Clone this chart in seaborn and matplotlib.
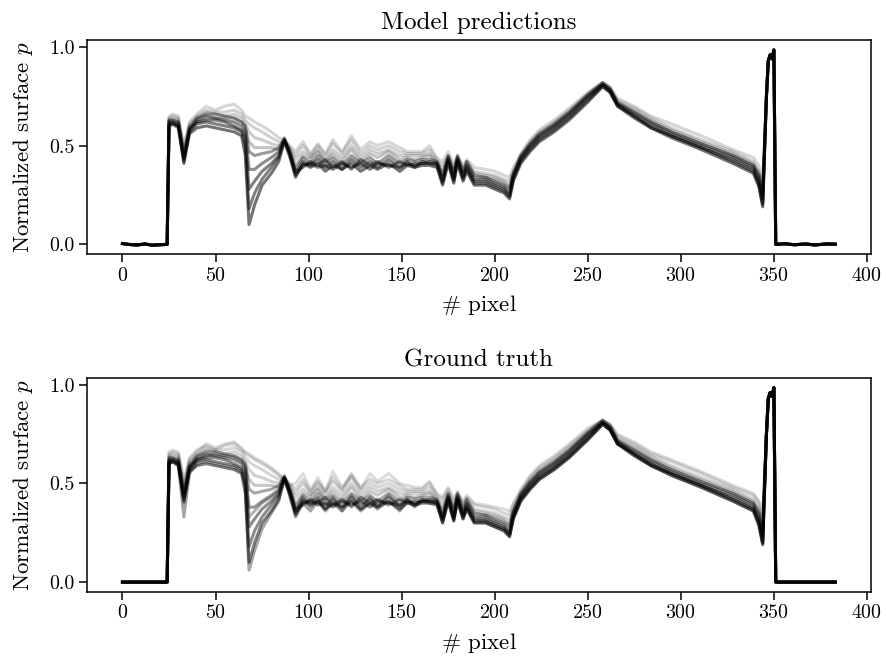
import matplotlib
matplotlib.use("Agg")
import matplotlib.pyplot as plt
import seaborn as sns
import numpy as np

# ---------------- data ----------------
X_pre = [0, 4, 8, 12, 16, 20, 24]
pre_pred = [0.004, -0.001, -0.003, 0.002, -0.004, -0.002, 0.0]
pre_truth = [0, 0, 0, 0, 0, 0, 0]

X_mid = [25, 27, 30, 33, 36, 40, 45, 50, 55, 60,
         64, 66, 68, 71, 75, 80, 84, 87, 90, 93,
         97, 101, 105, 109, 113, 118, 123, 128, 133, 137,
         143, 149, 153, 157, 161, 165, 169, 172, 175, 178,
         180, 183, 185, 189, 195, 200, 205, 208, 210, 214,
         219, 224, 232, 240, 250, 258, 262, 266, 275, 284,
         295, 311, 328, 339, 342, 344]

X_post = [346, 347, 348, 349, 350, 351, 356, 361, 367, 372, 378, 383]
post_pred = [0.75, 0.93, 0.96, 0.94, 0.985, 0.0, 0.003, -0.002, 0.002, -0.003, 0.002, 0.001]
post_truth = [0.75, 0.93, 0.96, 0.94, 0.985, 0, 0, 0, 0, 0, 0, 0]

C1 = [0.60, 0.61, 0.59, 0.41, 0.56, 0.59, 0.60, 0.59, 0.58, 0.57,
      0.55, 0.45, 0.10, 0.20, 0.30, 0.36, 0.42, 0.52, 0.44, 0.34,
      0.41, 0.39, 0.41, 0.37, 0.40, 0.38, 0.41, 0.37, 0.40, 0.38,
      0.41, 0.37, 0.40, 0.39, 0.40, 0.40, 0.39, 0.30, 0.41, 0.31,
      0.41, 0.32, 0.37, 0.30, 0.30, 0.28, 0.26, 0.23, 0.32, 0.41,
      0.47, 0.52, 0.57, 0.63, 0.72, 0.80, 0.77, 0.70, 0.64, 0.59,
      0.54, 0.48, 0.41, 0.36, 0.29, 0.19]
C2 = [0.60, 0.61, 0.60, 0.42, 0.57, 0.61, 0.62, 0.61, 0.60, 0.59,
      0.57, 0.50, 0.18, 0.26, 0.33, 0.39, 0.44, 0.53, 0.45, 0.35,
      0.40, 0.41, 0.39, 0.40, 0.38, 0.41, 0.39, 0.41, 0.38, 0.41,
      0.40, 0.39, 0.41, 0.40, 0.41, 0.41, 0.40, 0.31, 0.42, 0.32,
      0.42, 0.33, 0.38, 0.31, 0.31, 0.29, 0.27, 0.24, 0.33, 0.42,
      0.48, 0.53, 0.58, 0.64, 0.73, 0.80, 0.77, 0.70, 0.65, 0.59,
      0.55, 0.49, 0.42, 0.37, 0.30, 0.20]
C3 = [0.61, 0.62, 0.60, 0.43, 0.58, 0.62, 0.63, 0.63, 0.62, 0.60,
      0.58, 0.54, 0.28, 0.32, 0.37, 0.41, 0.45, 0.53, 0.46, 0.36,
      0.42, 0.40, 0.43, 0.39, 0.42, 0.38, 0.43, 0.39, 0.42, 0.39,
      0.43, 0.39, 0.42, 0.39, 0.42, 0.41, 0.41, 0.32, 0.43, 0.33,
      0.43, 0.34, 0.39, 0.32, 0.32, 0.30, 0.28, 0.25, 0.34, 0.43,
      0.49, 0.54, 0.59, 0.65, 0.74, 0.81, 0.78, 0.71, 0.65, 0.60,
      0.55, 0.49, 0.43, 0.38, 0.31, 0.21]
C4 = [0.62, 0.62, 0.61, 0.44, 0.58, 0.63, 0.65, 0.64, 0.63, 0.62,
      0.60, 0.57, 0.38, 0.38, 0.41, 0.44, 0.47, 0.53, 0.46, 0.37,
      0.39, 0.42, 0.40, 0.43, 0.39, 0.42, 0.38, 0.43, 0.40, 0.42,
      0.39, 0.42, 0.40, 0.41, 0.41, 0.42, 0.41, 0.33, 0.44, 0.34,
      0.44, 0.35, 0.40, 0.33, 0.33, 0.31, 0.29, 0.26, 0.35, 0.44,
      0.50, 0.55, 0.60, 0.66, 0.75, 0.81, 0.78, 0.71, 0.66, 0.61,
      0.56, 0.50, 0.44, 0.39, 0.33, 0.23]
C5 = [0.63, 0.63, 0.62, 0.45, 0.59, 0.64, 0.66, 0.66, 0.65, 0.64,
      0.62, 0.60, 0.47, 0.45, 0.46, 0.47, 0.49, 0.54, 0.47, 0.38,
      0.44, 0.41, 0.45, 0.41, 0.44, 0.40, 0.45, 0.41, 0.44, 0.41,
      0.45, 0.41, 0.43, 0.42, 0.43, 0.43, 0.42, 0.35, 0.45, 0.36,
      0.45, 0.37, 0.42, 0.35, 0.34, 0.32, 0.30, 0.28, 0.36, 0.45,
      0.51, 0.56, 0.61, 0.67, 0.76, 0.82, 0.79, 0.72, 0.67, 0.62,
      0.57, 0.51, 0.45, 0.40, 0.35, 0.25]
L1 = [0.65, 0.66, 0.65, 0.50, 0.62, 0.66, 0.70, 0.68, 0.70, 0.71,
      0.68, 0.65, 0.64, 0.62, 0.60, 0.57, 0.54, 0.53, 0.50, 0.47,
      0.52, 0.46, 0.51, 0.46, 0.53, 0.47, 0.55, 0.48, 0.52, 0.50,
      0.52, 0.49, 0.47, 0.47, 0.47, 0.50, 0.44, 0.42, 0.47, 0.41,
      0.45, 0.40, 0.43, 0.39, 0.38, 0.37, 0.35, 0.34, 0.39, 0.46,
      0.53, 0.58, 0.63, 0.69, 0.77, 0.82, 0.80, 0.74, 0.70, 0.65,
      0.61, 0.55, 0.48, 0.44, 0.40, 0.32]
L2 = [0.64, 0.65, 0.64, 0.48, 0.61, 0.65, 0.68, 0.67, 0.67, 0.68,
      0.66, 0.63, 0.61, 0.59, 0.57, 0.54, 0.52, 0.52, 0.49, 0.45,
      0.50, 0.45, 0.50, 0.45, 0.51, 0.46, 0.53, 0.46, 0.50, 0.48,
      0.50, 0.47, 0.46, 0.46, 0.46, 0.48, 0.43, 0.40, 0.45, 0.39,
      0.44, 0.39, 0.42, 0.37, 0.36, 0.35, 0.33, 0.32, 0.37, 0.45,
      0.52, 0.57, 0.62, 0.68, 0.76, 0.82, 0.79, 0.73, 0.69, 0.64,
      0.59, 0.53, 0.47, 0.42, 0.37, 0.29]
L3 = [0.63, 0.64, 0.63, 0.47, 0.60, 0.64, 0.67, 0.66, 0.65, 0.66,
      0.64, 0.61, 0.57, 0.54, 0.53, 0.51, 0.50, 0.52, 0.48, 0.43,
      0.47, 0.44, 0.48, 0.43, 0.48, 0.44, 0.50, 0.44, 0.48, 0.46,
      0.48, 0.45, 0.45, 0.45, 0.45, 0.46, 0.42, 0.38, 0.44, 0.38,
      0.43, 0.37, 0.41, 0.36, 0.35, 0.34, 0.32, 0.30, 0.36, 0.44,
      0.51, 0.56, 0.61, 0.67, 0.75, 0.81, 0.79, 0.72, 0.68, 0.63,
      0.58, 0.52, 0.46, 0.41, 0.36, 0.27]
L4 = [0.62, 0.63, 0.62, 0.46, 0.59, 0.62, 0.64, 0.64, 0.64, 0.64,
      0.62, 0.59, 0.52, 0.49, 0.49, 0.49, 0.48, 0.52, 0.47, 0.40,
      0.45, 0.43, 0.47, 0.42, 0.46, 0.42, 0.48, 0.42, 0.46, 0.44,
      0.47, 0.43, 0.44, 0.43, 0.44, 0.45, 0.41, 0.36, 0.43, 0.37,
      0.42, 0.36, 0.40, 0.34, 0.34, 0.33, 0.31, 0.29, 0.35, 0.43,
      0.50, 0.55, 0.60, 0.66, 0.75, 0.81, 0.78, 0.71, 0.67, 0.62,
      0.57, 0.51, 0.45, 0.40, 0.34, 0.25]
T1 = [0.60, 0.61, 0.59, 0.33, 0.55, 0.60, 0.61, 0.60, 0.59, 0.58,
      0.56, 0.48, 0.06, 0.16, 0.27, 0.35, 0.41, 0.53, 0.43, 0.33,
      0.40, 0.36, 0.41, 0.36, 0.40, 0.36, 0.41, 0.36, 0.40, 0.37,
      0.41, 0.36, 0.41, 0.38, 0.41, 0.40, 0.40, 0.30, 0.41, 0.31,
      0.41, 0.32, 0.37, 0.30, 0.30, 0.28, 0.26, 0.23, 0.32, 0.41,
      0.47, 0.52, 0.57, 0.63, 0.72, 0.80, 0.77, 0.70, 0.64, 0.59,
      0.54, 0.48, 0.41, 0.36, 0.28, 0.19]
T2 = [0.66, 0.67, 0.66, 0.52, 0.63, 0.67, 0.69, 0.67, 0.69, 0.70,
      0.67, 0.66, 0.65, 0.63, 0.61, 0.58, 0.55, 0.50, 0.49, 0.50,
      0.55, 0.47, 0.53, 0.46, 0.56, 0.48, 0.54, 0.47, 0.55, 0.51,
      0.55, 0.50, 0.49, 0.48, 0.48, 0.51, 0.45, 0.43, 0.48, 0.42,
      0.46, 0.41, 0.44, 0.40, 0.39, 0.38, 0.37, 0.36, 0.40, 0.47,
      0.54, 0.59, 0.64, 0.70, 0.78, 0.82, 0.80, 0.75, 0.71, 0.66,
      0.62, 0.56, 0.49, 0.45, 0.41, 0.34]
T3 = [0.61, 0.62, 0.61, 0.40, 0.57, 0.62, 0.64, 0.65, 0.64, 0.63,
      0.61, 0.58, 0.33, 0.36, 0.40, 0.43, 0.46, 0.52, 0.45, 0.36,
      0.43, 0.38, 0.42, 0.37, 0.43, 0.36, 0.44, 0.37, 0.43, 0.38,
      0.44, 0.38, 0.42, 0.39, 0.41, 0.41, 0.40, 0.32, 0.42, 0.32,
      0.42, 0.33, 0.38, 0.31, 0.31, 0.29, 0.27, 0.24, 0.33, 0.42,
      0.48, 0.53, 0.58, 0.64, 0.73, 0.81, 0.77, 0.70, 0.65, 0.60,
      0.55, 0.49, 0.42, 0.37, 0.30, 0.20]

pred_curves = [(L1, 0.16), (L2, 0.18), (L3, 0.2), (L4, 0.24),
               (C5, 0.4), (C4, 0.45), (C3, 0.5), (C2, 0.5), (C1, 0.55)]
truth_curves = [(T2, 0.14), (L1, 0.16), (L2, 0.16), (L3, 0.18), (L4, 0.22),
                (C5, 0.35), (T3, 0.3), (C4, 0.4), (C3, 0.45), (C2, 0.45),
                (C1, 0.5), (T1, 0.35)]

titles = ["Model predictions", "Ground truth"]
xlabel = r"$\#$ pixel"
ylabel = r"Normalized surface $p$"

# ---------------- styling ----------------
plt.rcParams["font.family"] = "serif"
plt.rcParams["font.serif"] = ["cmr10", "DejaVu Serif"]
plt.rcParams["mathtext.fontset"] = "cm"
plt.rcParams["axes.formatter.use_mathtext"] = True
plt.rcParams["axes.unicode_minus"] = False

fig, axes = plt.subplots(2, 1, figsize=(8.86, 6.57), dpi=100)
fig.subplots_adjust(left=0.098, right=0.983, top=0.939, bottom=0.099, hspace=0.577)

panels = [(pre_pred, post_pred, pred_curves), (pre_truth, post_truth, truth_curves)]
for ax, title, (pre, post, curves) in zip(axes, titles, panels):
    xs = X_pre + X_mid + X_post
    for vals, a in curves:
        ys = pre + vals + post
        sns.lineplot(x=xs, y=ys, ax=ax, color="black", alpha=a, linewidth=2.2,
                     estimator=None, sort=False)
    ax.set_xlim(-19.15, 402.15)
    ax.set_ylim(-0.05, 1.035)
    ax.set_xticks(np.arange(0, 401, 50))
    ax.set_yticks([0.0, 0.5, 1.0])
    ax.set_yticklabels(["0.0", "0.5", "1.0"])
    ax.set_title(title, fontsize=18, pad=8)
    ax.set_xlabel(xlabel, fontsize=16.5, labelpad=6)
    ax.set_ylabel(ylabel, fontsize=16.5, labelpad=10)
    ax.tick_params(labelsize=14.4, length=5.5, width=1.1)
    for s in ax.spines.values():
        s.set_linewidth(1.1)

fig.savefig("out.png", dpi=100)
